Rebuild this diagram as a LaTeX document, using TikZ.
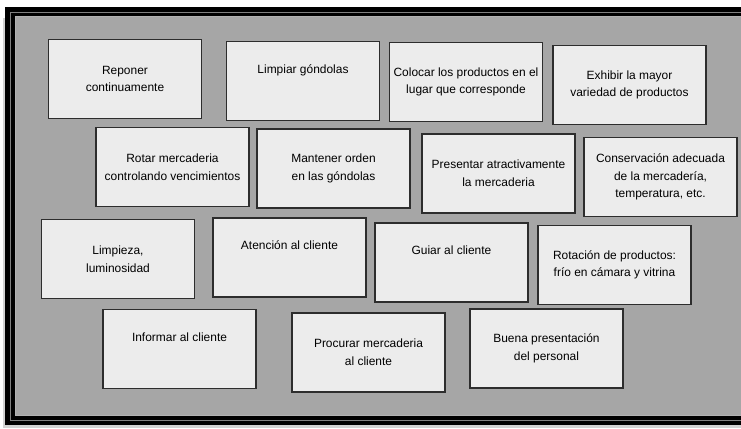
\documentclass[tikz,border=0pt]{standalone}
\usepackage{fontspec}
\setmainfont{Liberation Sans}
\definecolor{fondo}{RGB}{166,166,166}
\definecolor{cajafondo}{RGB}{236,236,236}
\definecolor{borde}{RGB}{45,45,45}
\begin{document}
\begin{tikzpicture}[x=0.025cm, y=-0.025cm]
\tikzstyle{caja} = [draw=borde, line width=1.1pt, fill=cajafondo, minimum width=3.82cm, minimum height=1.97cm, inner sep=1pt, align=center, font=\fontsize{8.5}{12.5}\selectfont];
\tikzstyle{una} = [text depth=0.6cm];
\useasboundingbox (0,0) rectangle (741,428);
\fill[gray!35] (3,18) rectangle (745,428);
\fill[fondo] (15,16) rectangle (745,415);
\draw[line width=7pt] (10,12) rectangle (760,420);
\draw[gray, line width=0.5pt] (10,12) rectangle (760,420);
\draw[gray!60, line width=0.5pt] (15,16) rectangle (760,415);

\node[caja] (rep) at (125, 79) {Reponer\\continuamente};
\node[caja, una] (limp) at (303, 81) {Limpiar góndolas};
\node[caja] (col) at (466, 82) {Colocar los productos en el\\lugar que corresponde};
\node[caja] (exh) at (629.5, 85) {Exhibir la mayor\\variedad de productos};

\node[caja] (rot) at (172.5, 167) {Rotar mercaderia\\controlando vencimientos};
\node[caja] (mant) at (333.5, 168.5) {Mantener orden\\en las góndolas};
\node[caja] (pres) at (498.5, 173.5) {Presentar atractivamente\\la mercaderia};
\node[caja] (cons) at (660.5, 177) {Conservación adecuada\\de la mercadería,\\temperatura, etc.};

\node[caja] (limz) at (118, 259) {Limpieza,\\luminosidad};
\node[caja, una] (aten) at (289.5, 257.5) {Atención al cliente};
\node[caja, una] (guia) at (451.5, 262.5) {Guiar al cliente};
\node[caja] (rotp) at (614.5, 265) {Rotación de productos:\\frío en cámara y vitrina};

\node[caja, una] (inf) at (179.5, 349) {Informar al cliente};
\node[caja] (proc) at (368.5, 352.5) {Procurar mercaderia\\al cliente};
\node[caja] (buena) at (546.5, 348.5) {Buena presentación\\del personal};
\end{tikzpicture}
\end{document}
